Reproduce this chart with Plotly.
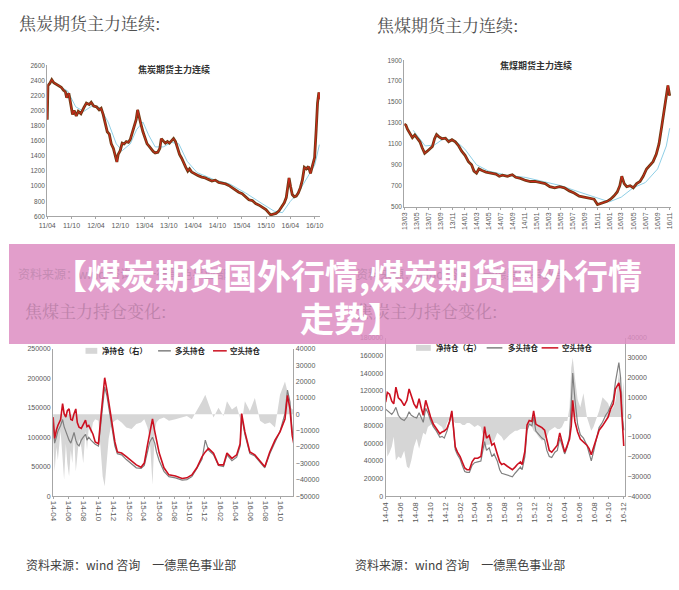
import plotly.graph_objects as go

W, H = 679, 590
def px(x): return x / W
def py(y): return 1 - y / H

FONT_CJK = "Noto Sans CJK SC"
FONT_SERIF = "Noto Serif CJK SC, Noto Sans CJK SC"
FONT_NUM = "Liberation Sans"

# ---------------- 焦炭期货主力连续 (top-left) ----------------
coke_dates = [
    "2011-04-01","2011-04-06","2011-04-20","2011-05-05","2011-05-20","2011-06-05","2011-06-25","2011-07-15",
    "2011-08-01","2011-08-15","2011-08-25","2011-09-10","2011-09-25","2011-10-08","2011-10-20","2011-11-05",
    "2011-11-20","2011-12-10",
    "2012-01-01","2012-01-20","2012-02-10","2012-02-25","2012-03-15","2012-04-05","2012-04-25","2012-05-10",
    "2012-05-25","2012-06-10","2012-06-25","2012-07-10","2012-07-25","2012-08-10","2012-08-25","2012-09-05",
    "2012-09-15","2012-09-30","2012-10-15","2012-10-30","2012-11-15","2012-12-01","2012-12-15",
    "2013-01-01","2013-01-15","2013-01-28","2013-02-08","2013-02-20","2013-03-05","2013-03-20","2013-04-05",
    "2013-04-20","2013-05-05","2013-05-20","2013-06-05","2013-06-20","2013-07-10","2013-07-25","2013-08-05",
    "2013-08-20","2013-09-05","2013-09-20","2013-10-05","2013-10-20","2013-11-05","2013-11-20","2013-12-05",
    "2013-12-20",
    "2014-01-05","2014-01-20","2014-02-05","2014-02-20","2014-03-05","2014-03-20","2014-04-15","2014-05-10",
    "2014-06-05","2014-07-01","2014-07-25","2014-08-20","2014-09-15","2014-10-10","2014-11-05","2014-12-01",
    "2014-12-25",
    "2015-01-20","2015-02-15","2015-03-10","2015-04-05","2015-05-01","2015-05-25","2015-06-20","2015-07-15",
    "2015-08-10","2015-09-05","2015-09-30","2015-10-20","2015-11-05","2015-11-25","2015-12-15",
    "2016-01-05","2016-01-25","2016-02-15","2016-03-01","2016-03-12","2016-03-22","2016-04-02","2016-04-15",
    "2016-04-30","2016-05-15","2016-05-30","2016-06-15","2016-06-30","2016-07-15","2016-07-30","2016-08-15",
    "2016-08-30","2016-09-15","2016-09-30","2016-10-12","2016-10-22","2016-11-01","2016-11-06",
]
coke_close = [
    1880, 2330, 2360, 2410, 2370, 2350, 2330, 2310,
    2270, 2250, 2170, 2230, 2080, 1950, 2000, 1930,
    1990, 1960,
    2040, 2100, 2080, 2110, 2060, 2050, 2010, 2030,
    1950, 1840, 1720, 1690, 1560, 1500, 1380, 1320,
    1420, 1470, 1570, 1560, 1590, 1580, 1620,
    1720, 1810, 1880, 2010, 1900, 1820, 1720, 1620,
    1560, 1530, 1490, 1460, 1440, 1450, 1500, 1630,
    1600, 1570, 1590, 1570, 1600, 1630, 1590, 1500,
    1420,
    1370, 1300, 1250, 1200, 1230, 1190, 1170, 1140,
    1120, 1110, 1090, 1070, 1080, 1050, 1040, 1030,
    1010,
    980, 940, 920, 900, 860, 820, 810, 770,
    750, 720, 690, 650, 620, 630, 640,
    670, 720, 780, 850, 1000, 1110, 1000, 890,
    860, 870, 910, 980, 1080, 1250, 1230, 1260,
    1170, 1290, 1380, 1750, 2100, 2240, 2150,
]
coke_ma_dates = ["2011-06-01","2011-09-01","2011-11-01","2012-01-01","2012-03-01","2012-05-01","2012-07-01",
                 "2012-09-01","2012-10-15","2012-12-15","2013-02-01","2013-03-20","2013-05-01","2013-06-20",
                 "2013-08-20","2013-10-20","2013-12-15","2014-02-15","2014-05-01","2014-09-01","2015-01-01",
                 "2015-05-01","2015-09-01","2015-12-01","2016-02-01","2016-04-01","2016-06-01","2016-08-01",
                 "2016-10-01","2016-11-05"]
coke_ma = [2350, 2260, 2050, 1990, 2060, 2040, 1850,
           1560, 1470, 1560, 1750, 1850, 1680, 1520,
           1520, 1580, 1560, 1330, 1180, 1090, 1030,
           910, 770, 670, 650, 800, 920, 1100,
           1280, 1550]
coke_tick_dates = ["2011-04-01","2011-10-01","2012-04-01","2012-10-01","2013-04-01","2013-10-01",
                   "2014-04-01","2014-10-01","2015-04-01","2015-10-01","2016-04-01","2016-10-01"]
coke_tick_text = ["11/04","11/10","12/04","12/10","13/04","13/10","14/04","14/10","15/04","15/10","16/04","16/10"]

# ---------------- 焦煤期货主力连续 (top-right) ----------------
coal_dates = [
    "2013-03-01","2013-03-09","2013-03-17","2013-03-29","2013-04-11","2013-04-23","2013-05-06","2013-05-19",
    "2013-05-31","2013-06-12","2013-06-25","2013-07-08","2013-07-21","2013-08-01","2013-08-11","2013-08-22",
    "2013-09-08","2013-09-25","2013-10-11","2013-10-28","2013-11-14","2013-12-01","2013-12-16",
    "2014-01-02","2014-01-19","2014-02-04","2014-02-16","2014-03-01","2014-03-13","2014-03-29","2014-04-18",
    "2014-05-13","2014-06-07","2014-06-24","2014-07-10","2014-08-04","2014-08-29","2014-09-15","2014-10-09",
    "2014-11-04","2014-11-28","2014-12-22",
    "2015-01-16","2015-02-11","2015-03-06","2015-03-31","2015-04-25","2015-05-19","2015-06-13","2015-07-07",
    "2015-08-02","2015-08-27","2015-09-21","2015-10-16","2015-11-02","2015-11-18","2015-12-05","2015-12-21",
    "2016-01-07","2016-01-24","2016-02-10","2016-02-23","2016-03-04","2016-03-16","2016-03-29","2016-04-15",
    "2016-05-01","2016-05-18","2016-06-04","2016-06-20","2016-07-07","2016-07-23","2016-08-09","2016-08-25",
    "2016-09-08","2016-09-22","2016-10-05","2016-10-14","2016-10-23","2016-11-01",
]
coal_close = [
    1290, 1280, 1240, 1200, 1160, 1185, 1150, 1120,
    1060, 1010, 1030, 1050, 1075, 1150, 1190, 1170,
    1150, 1155, 1120, 1140, 1120, 1080, 1030,
    990, 930, 900, 840, 820, 860, 845, 830,
    820, 810, 790, 800, 790, 805, 780, 770,
    750, 740, 740,
    730, 720, 690, 680, 690, 680, 650, 630,
    600, 590, 580, 570, 520, 530, 540, 550,
    570, 600, 640, 700, 790, 720, 690, 700,
    680, 720, 740, 790, 860, 890, 930, 1000,
    1100, 1270, 1420, 1560, 1660, 1560,
]
coal_ma_dates = ["2013-04-15","2013-06-15","2013-08-01","2013-09-15","2013-11-15","2014-01-01","2014-03-01",
                 "2014-05-01","2014-08-01","2014-11-01","2015-02-01","2015-05-01","2015-08-01","2015-11-01",
                 "2016-01-01","2016-03-01","2016-05-01","2016-07-01","2016-09-01","2016-10-15","2016-11-01"]
coal_ma = [1230, 1080, 1090, 1150, 1130, 1050, 900,
           840, 800, 780, 740, 700, 640, 580,
           545, 590, 680, 730, 860, 1080, 1250]
coal_tick_dates = ["2013-03-01","2013-05-01","2013-07-01","2013-09-01","2013-11-01","2014-01-01","2014-03-01",
                   "2014-05-01","2014-07-01","2014-09-01","2014-11-01","2015-01-01","2015-03-01","2015-05-01",
                   "2015-07-01","2015-09-01","2015-11-01","2016-01-01","2016-03-01","2016-05-01","2016-07-01",
                   "2016-09-01","2016-11-01"]
coal_tick_text = ["13/03","13/05","13/07","13/09","13/11","14/01","14/03","14/05","14/07","14/09","14/11",
                  "15/01","15/03","15/05","15/07","15/09","15/11","16/01","16/03","16/05","16/07","16/09","16/11"]

# ---------------- 焦煤主力持仓变化 (bottom-left) ----------------
jm_dates = [
    "2014-04-01","2014-04-07","2014-04-14","2014-04-20","2014-05-01","2014-05-09","2014-05-15","2014-05-22",
    "2014-05-28","2014-06-04","2014-06-11","2014-06-17","2014-06-24","2014-07-01","2014-07-07","2014-07-14",
    "2014-07-23","2014-07-31","2014-08-09","2014-08-15","2014-08-22","2014-08-31","2014-09-08","2014-09-17",
    "2014-09-30","2014-10-11","2014-10-17","2014-10-25","2014-11-03","2014-11-10","2014-11-18","2014-11-26",
    "2014-12-05","2014-12-15",
    "2015-01-01","2015-01-20","2015-02-10","2015-03-01","2015-03-20","2015-04-02","2015-04-15","2015-04-24",
    "2015-05-05","2015-05-14","2015-05-21","2015-06-01","2015-06-20","2015-07-10","2015-08-05","2015-09-01",
    "2015-09-20","2015-10-10","2015-10-30","2015-11-20","2015-12-03","2015-12-16",
    "2016-01-05","2016-01-25","2016-02-14","2016-02-28","2016-03-19","2016-04-07","2016-04-21","2016-04-27",
    "2016-05-10","2016-05-30","2016-06-19","2016-07-10","2016-07-29","2016-08-18","2016-09-08","2016-09-28",
    "2016-10-18","2016-10-28","2016-11-07","2016-11-16","2016-11-26",
]
jm_short = [
    134000, 98000, 112000, 120000, 130000, 157000, 140000, 134000,
    145000, 148000, 130000, 129000, 140000, 148000, 125000, 117000,
    115000, 122000, 129000, 118000, 120000, 112000, 105000, 92000,
    89000, 140000, 165000, 201000, 180000, 162000, 140000, 118000,
    92000, 75000,
    73000, 67000, 59000, 53000, 49000, 56000, 87000, 110000,
    131000, 110000, 95000, 73000, 48000, 36000, 34000, 30000,
    31000, 36000, 48000, 67000, 75000, 81000,
    73000, 53000, 53000, 73000, 64000, 70000, 89000, 140000,
    109000, 75000, 70000, 59000, 50000, 75000, 95000, 109000,
    131000, 171000, 148000, 103000, 81000,
]
jm_long = [
    125000, 90000, 100000, 110000, 120000, 130000, 118000, 110000,
    100000, 95000, 90000, 100000, 108000, 95000, 88000, 85000,
    95000, 100000, 105000, 95000, 100000, 95000, 92000, 88000,
    85000, 130000, 160000, 185000, 170000, 150000, 130000, 110000,
    85000, 72000,
    70000, 62000, 55000, 48000, 47000, 52000, 75000, 92000,
    100000, 90000, 75000, 60000, 42000, 33000, 31000, 27000,
    28000, 33000, 47000, 63000, 95000, 78000,
    70000, 52000, 50000, 70000, 60000, 66000, 85000, 135000,
    105000, 72000, 68000, 57000, 48000, 72000, 92000, 110000,
    140000, 180000, 160000, 110000, 95000,
]
jm_net = [
    -15000, -35000, -20000, -28000, -10000, -25000, -40000, -18000,
    -30000, -38000, -22000, -30000, -12000, -35000, -25000, -15000,
    -20000, -30000, -10000, -22000, -8000, -12000, -5000, -3000,
    -4000, -25000, -38000, -44000, -30000, -15000, -8000, -5000,
    -4000, -3000,
    -5000, -8000, -9000, -6000, -5000, -3000, -8000, -15000,
    -43000, -10000, -5000, -3000, -2000, -4000, -3000, -2000,
    -1000, -3000, 2000, 8000, 12000, 6000,
    -2000, 4000, -1000, 8000, 3000, 5000, -3000, -6000,
    8000, 2000, 10000, -4000, -6000, -5000, -8000, 12000,
    20000, 14000, 5000, 3000, 4000,
]
jm_tick_dates = ["2014-04-01","2014-06-01","2014-08-01","2014-10-01","2014-12-01","2015-02-01","2015-04-01",
                 "2015-06-01","2015-08-01","2015-10-01","2015-12-01","2016-02-01","2016-04-01","2016-06-01",
                 "2016-08-01","2016-10-01"]
jm_tick_text = ["14-04","14-06","14-08","14-10","14-12","15-02","15-04","15-06","15-08","15-10","15-12",
                "16-02","16-04","16-06","16-08","16-10"]

# ---------------- 焦炭主力持仓变化 (bottom-right) ----------------
j_dates = [
    "2014-04-01","2014-04-08","2014-04-17","2014-04-26","2014-05-04","2014-05-13","2014-05-23","2014-06-03",
    "2014-06-16","2014-06-27","2014-07-06","2014-07-15","2014-07-26","2014-08-06","2014-08-16","2014-08-25",
    "2014-09-02","2014-09-12","2014-09-21","2014-10-02","2014-10-13","2014-10-26","2014-11-09","2014-11-18",
    "2014-11-27","2014-12-08","2014-12-19","2014-12-28",
    "2015-01-04","2015-01-11","2015-01-20","2015-01-31","2015-02-10","2015-02-19","2015-02-28","2015-03-10",
    "2015-03-21","2015-03-31","2015-04-13","2015-04-26","2015-05-06","2015-05-11","2015-05-19","2015-05-30",
    "2015-06-10","2015-06-19","2015-07-02","2015-07-12","2015-07-20","2015-07-29","2015-08-12","2015-08-22",
    "2015-09-02","2015-09-13","2015-09-22","2015-10-05","2015-10-12","2015-10-23","2015-11-01","2015-11-10",
    "2015-11-21","2015-11-28","2015-12-07","2015-12-18",
    "2016-01-01","2016-01-12","2016-01-21","2016-01-31","2016-02-10","2016-02-23","2016-03-04","2016-03-14",
    "2016-03-23","2016-04-03","2016-04-14","2016-04-23","2016-04-30","2016-05-06","2016-05-15","2016-05-26",
    "2016-06-06","2016-06-19","2016-07-03","2016-07-12","2016-07-21","2016-07-30","2016-08-08","2016-08-22",
    "2016-09-05","2016-09-18","2016-09-28","2016-10-08","2016-10-19","2016-10-28","2016-11-04","2016-11-11",
    "2016-11-18","2016-11-24","2016-12-01",
]
j_short = [
    107000, 118000, 116000, 108000, 105000, 124000, 112000, 109000,
    103000, 109000, 122000, 114000, 105000, 100000, 111000, 100000,
    92000, 109000, 100000, 90000, 82000, 77000, 71000, 73000,
    74000, 77000, 85000, 97000,
    80000, 56000, 50000, 45000, 38000, 32000, 30000, 30000,
    39000, 43000, 43000, 45000, 65000, 79000, 66000, 69000,
    58000, 60000, 48000, 39000, 36000, 37000, 34000, 32000,
    30000, 33000, 36000, 39000, 36000, 51000, 81000, 86000,
    85000, 97000, 82000, 80000,
    78000, 75000, 62000, 52000, 50000, 55000, 58000, 72000,
    63000, 50000, 58000, 65000, 80000, 109000, 85000, 73000,
    65000, 62000, 58000, 54000, 47000, 55000, 62000, 75000,
    80000, 86000, 90000, 99000, 105000, 122000, 125000, 129000,
    118000, 84000, 57000,
]
j_long = [
    99000, 97000, 95000, 93000, 96000, 101000, 92000, 88000,
    86000, 90000, 96000, 92000, 90000, 89000, 95000, 88000,
    84000, 100000, 95000, 86000, 79000, 74000, 67000, 68000,
    66000, 74000, 84000, 95000,
    78000, 53000, 47000, 42000, 34000, 28000, 27000, 27000,
    35000, 38000, 39000, 40000, 55000, 62000, 52000, 55000,
    45000, 48000, 40000, 30000, 26000, 25000, 24000, 23000,
    22000, 26000, 29000, 33000, 30000, 45000, 75000, 82000,
    80000, 90000, 74000, 70000,
    66000, 64000, 52000, 45000, 44000, 50000, 52000, 66000,
    58000, 48000, 56000, 70000, 105000, 140000, 110000, 82000,
    70000, 66000, 58000, 50000, 40000, 50000, 60000, 78000,
    84000, 92000, 96000, 102000, 110000, 130000, 140000, 152000,
    135000, 95000, 75000,
]
j_net = [
    -8000, -20000, -18000, -15000, -10000, -22000, -20000, -21000,
    -17000, -25000, -26000, -22000, -15000, -11000, -16000, -12000,
    -8000, -9000, -5000, -4000, -3000, -3000, -4000, -5000,
    -8000, -3000, -1000, -2000,
    -2000, -3000, -3000, -3000, -4000, -4000, -3000, -3000,
    -4000, -5000, -4000, -5000, -10000, -17000, -14000, -14000,
    -13000, -12000, -8000, -9000, -10000, -12000, -10000, -9000,
    -8000, -7000, -7000, -6000, -6000, -6000, -6000, -4000,
    -5000, -7000, -8000, -10000,
    -12000, -11000, -10000, -7000, -6000, -5000, -6000, -6000,
    -5000, -2000, -2000, 5000, 25000, 30000, 20000, 9000,
    5000, 12000, 0, -4000, -7000, -5000, -2000, 3000,
    10000, 8000, 7000, 3000, 5000, 8000, 15000, 22000,
    17000, 11000, 18000,
]
j_tick_dates = jm_tick_dates + ["2016-12-01"]
j_tick_text = jm_tick_text + ["16-12"]

# ---------------- figure ----------------
fig = go.Figure()

def price_traces(dates, close, ma_dates, ma, xa, ya):
    fig.add_trace(go.Scatter(x=ma_dates, y=ma, xaxis=xa, yaxis=ya, mode="lines",
                             line=dict(color="#8fcfe6", width=1), hoverinfo="skip"))
    fig.add_trace(go.Scatter(x=dates, y=close, xaxis=xa, yaxis=ya, mode="lines",
                             line=dict(color="#6e3c14", width=2.8)))
    fig.add_trace(go.Scatter(x=dates, y=close, xaxis=xa, yaxis=ya, mode="lines",
                             line=dict(color="#d3261c", width=1)))

price_traces(coke_dates, coke_close, coke_ma_dates, coke_ma, "x", "y")
price_traces(coal_dates, coal_close, coal_ma_dates, coal_ma, "x2", "y2")

def oi_traces(dates, net, long_, short_, xa, ya_net, ya_pos):
    fig.add_trace(go.Scatter(x=dates, y=net, xaxis=xa, yaxis=ya_net, mode="lines", fill="tozeroy",
                             line=dict(width=0, color="#d6d6d6"), fillcolor="#d6d6d6"))
    fig.add_trace(go.Scatter(x=dates, y=long_, xaxis=xa, yaxis=ya_pos, mode="lines",
                             line=dict(color="#808080", width=1.2)))
    fig.add_trace(go.Scatter(x=dates, y=short_, xaxis=xa, yaxis=ya_pos, mode="lines",
                             line=dict(color="#cc1020", width=1.6)))

oi_traces(jm_dates, jm_net, jm_long, jm_short, "x3", "y3", "y4")
oi_traces(j_dates, j_net, j_long, j_short, "x4", "y5", "y6")

AX = "#a6a6a6"
def tf(size):
    return dict(family=FONT_NUM, size=size, color="#595959")

common_x = dict(type="date", showgrid=False, zeroline=False, showline=True, linecolor=AX, linewidth=1,
                ticks="outside", ticklen=2, tickcolor=AX)
common_y = dict(showgrid=False, zeroline=False, showline=True, linecolor=AX, linewidth=1,
                ticks="", tickformat="d")

fig.update_layout(
    width=W, height=H, margin=dict(l=0, r=0, t=0, b=0),
    paper_bgcolor="white", plot_bgcolor="white", showlegend=False,
    xaxis=dict(common_x, domain=[px(39), px(317)], anchor="y", range=["2011-04-01", "2016-11-09"],
               tickvals=coke_tick_dates, ticktext=coke_tick_text, tickangle=0, tickfont=tf(7)),
    yaxis=dict(common_y, domain=[py(215), py(62)], anchor="x", range=[600, 2600], tick0=600, dtick=200,
               tickfont=tf(6.5)),
    xaxis2=dict(common_x, domain=[px(403), px(675)], anchor="y2", range=["2013-03-01", "2016-11-08"],
                tickvals=coal_tick_dates, ticktext=coal_tick_text, tickangle=-90, tickfont=tf(7)),
    yaxis2=dict(common_y, domain=[py(205), py(57)], anchor="x2", range=[500, 1900], tick0=500, dtick=200,
                tickfont=tf(6.5)),
    xaxis3=dict(common_x, domain=[px(45), px(290)], anchor="y3", range=["2014-04-01", "2016-11-21"],
                tickvals=jm_tick_dates, ticktext=jm_tick_text, tickangle=90, tickfont=tf(8)),
    yaxis3=dict(common_y, domain=[py(498), py(349)], anchor="x3", side="right", range=[-50000, 40000],
                dtick=10000, tickfont=tf(7)),
    yaxis4=dict(common_y, anchor="x3", overlaying="y3", side="left", range=[0, 250000], dtick=50000,
                tickfont=tf(7)),
    xaxis4=dict(common_x, domain=[px(384), px(628)], anchor="y5", range=["2014-04-01", "2016-12-06"],
                tickvals=j_tick_dates, ticktext=j_tick_text, tickangle=-90, tickfont=tf(8)),
    yaxis5=dict(common_y, domain=[py(498), py(338)], anchor="x4", side="right", range=[-40000, 40000],
                dtick=10000, tickfont=tf(7)),
    yaxis6=dict(common_y, anchor="x4", overlaying="y5", side="left", range=[0, 180000], dtick=20000,
                tickfont=tf(7)),
)

shapes = []
annotations = []

def ann(x, y, text, size, color, xanchor="left", family=FONT_CJK, bold=False):
    annotations.append(dict(x=px(x), y=py(y), xref="paper", yref="paper", text=(f"<b>{text}</b>" if bold else text),
                            showarrow=False, xanchor=xanchor, yanchor="middle",
                            font=dict(family=family, size=size, color=color)))

# Section titles
ann(8, 19, "焦炭期货主力连续:", 17, "#505050", family=FONT_SERIF)
ann(373, 21, "焦煤期货主力连续:", 17, "#505050", family=FONT_SERIF)
# inner chart titles
ann(168, 66, "焦炭期货主力连续", 9, "#333333", xanchor="center", bold=True)
ann(537, 62, "焦煤期货主力连续", 9, "#333333", xanchor="center", bold=True)

# legends for position charts
def legend(xp, xt1, xl, xt2, xr, xt3, y):
    shapes.append(dict(type="rect", xref="paper", yref="paper", x0=px(xp[0]), x1=px(xp[1]),
                       y0=py(y + 3), y1=py(y - 3), fillcolor="#d6d6d6", line=dict(width=0)))
    ann(xt1, y, "净持仓（右）", 7.5, "#222222", bold=True)
    shapes.append(dict(type="line", xref="paper", yref="paper", x0=px(xl[0]), x1=px(xl[1]),
                       y0=py(y), y1=py(y), line=dict(color="#808080", width=1.5)))
    ann(xt2, y, "多头持仓", 7.5, "#222222", bold=True)
    shapes.append(dict(type="line", xref="paper", yref="paper", x0=px(xr[0]), x1=px(xr[1]),
                       y0=py(y), y1=py(y), line=dict(color="#cc1020", width=1.5)))
    ann(xt3, y, "空头持仓", 7.5, "#222222", bold=True)

legend((78, 90), 93, (152, 165), 167, (208, 222), 223, 351)
legend((415, 430), 433, (487, 503), 507, (543, 560), 562, 348)

# source lines
ann(15, 567, "资料来源：wind 咨询　一德黑色事业部", 12, "#404040")
ann(351, 567, "资料来源：wind 咨询　一德黑色事业部", 12, "#404040")

# texts beneath the banner (seen through it)
ann(7, 273, "资料来源：wind 咨询　一德黑色事业部", 12, "#c58bb3")
ann(352, 273, "资料来源：wind 咨询　一德黑色事业部", 12, "#c58bb3")
ann(14, 310, "焦煤主力持仓变化:", 17, "#bd82aa", family=FONT_SERIF)
ann(352, 310, "焦炭主力持仓变化:", 17, "#bd82aa", family=FONT_SERIF)

# banner
shapes.append(dict(type="rect", xref="paper", yref="paper", x0=0, x1=1, y0=py(344), y1=py(243),
                   fillcolor="rgba(221,141,194,0.85)", line=dict(width=0), layer="above"))
annotations.append(dict(x=px(345), y=py(274), xref="paper", yref="paper",
                        text="<b>【煤炭期货国外行情,煤炭期货国外行情</b>",
                        showarrow=False, xanchor="center", yanchor="middle",
                        font=dict(family=FONT_CJK, size=34, color="white")))
annotations.append(dict(x=px(349), y=py(317), xref="paper", yref="paper",
                        text="<b>走势】</b>",
                        showarrow=False, xanchor="center", yanchor="middle",
                        font=dict(family=FONT_CJK, size=34, color="white")))

fig.update_layout(shapes=shapes, annotations=annotations)
fig.write_html("out.html")
